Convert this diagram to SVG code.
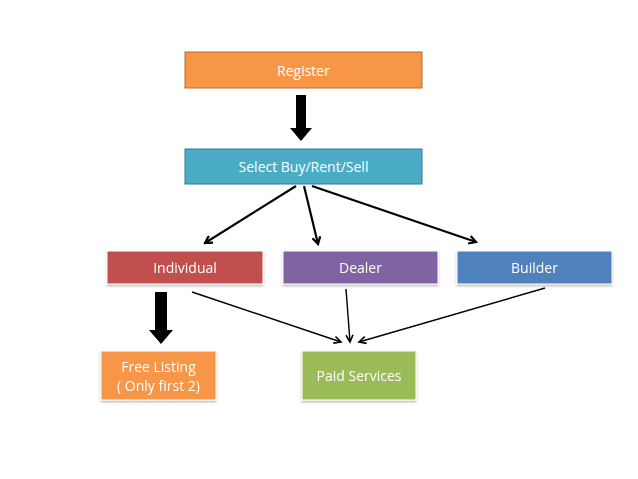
<svg xmlns="http://www.w3.org/2000/svg" width="638" height="479" viewBox="0 0 638 479">
<defs>
<style>
.box{stroke-width:1}
.t{font-family:"Open Sans","Liberation Sans",sans-serif;font-size:14px;fill:#fff;text-anchor:middle}
.c{stroke:#000;stroke-width:2.2;fill:none}
.c2{stroke:#000;stroke-width:1.4;fill:none}
</style>
<marker id="ah" markerWidth="10" markerHeight="10" refX="8" refY="5" orient="auto" markerUnits="userSpaceOnUse"><path d="M1,1 L8,5 L1,9" fill="none" stroke="#000" stroke-width="2.2"/></marker>
<marker id="ah2" markerWidth="10" markerHeight="10" refX="8" refY="5" orient="auto" markerUnits="userSpaceOnUse"><path d="M1,1.5 L8,5 L1,8.5" fill="none" stroke="#000" stroke-width="1.6"/></marker>
<filter id="sh" x="-5%" y="-10%" width="110%" height="130%"><feDropShadow dx="0" dy="1.5" stdDeviation="1.2" flood-color="#000" flood-opacity="0.3"/></filter>
</defs>
<rect width="638" height="479" fill="#fff"/>
<g id="register"><rect class="box" x="185" y="52" width="237" height="36" fill="#F79646" stroke="#B66D31"/><text class="t" x="303.5" y="76">Register</text></g>
<g id="select"><rect class="box" x="185" y="149" width="237" height="35" fill="#4BACC6" stroke="#357D91"/><text class="t" x="303.5" y="172">Select Buy/Rent/Sell</text></g>
<g id="individual" filter="url(#sh)"><rect class="box" x="107" y="251" width="156" height="33" fill="#C0504D" stroke="#fff"/><text class="t" x="185" y="273">Individual</text></g>
<g id="dealer" filter="url(#sh)"><rect class="box" x="283" y="251" width="155" height="33" fill="#8064A2" stroke="#fff"/><text class="t" x="360.5" y="273">Dealer</text></g>
<g id="builder" filter="url(#sh)"><rect class="box" x="457" y="251" width="155" height="33" fill="#4F81BD" stroke="#fff"/><text class="t" x="534.5" y="273">Builder</text></g>
<g id="free" filter="url(#sh)"><rect class="box" x="101" y="351" width="115" height="49" fill="#F79646" stroke="#fff"/><text class="t" x="158.5" y="372">Free Listing</text><text class="t" x="158.5" y="391">( Only first 2)</text></g>
<g id="paid" filter="url(#sh)"><rect class="box" x="302" y="351" width="114" height="49" fill="#9BBB59" stroke="#fff"/><text class="t" x="359" y="381">Paid Services</text></g>
<g id="connectors">
<path d="M296,95 H306 V128 H312 L301,141 L290,128 H296 Z" fill="#000"/>
<path d="M155,292 H167 V330 H173 L161,344 L149,330 H155 Z" fill="#000"/>
<line class="c" x1="296" y1="186" x2="205" y2="243" marker-end="url(#ah)"/>
<line class="c" x1="304" y1="186" x2="318" y2="244" marker-end="url(#ah)"/>
<line class="c" x1="312" y1="186" x2="476" y2="242" marker-end="url(#ah)"/>
<line class="c2" x1="192" y1="292" x2="341" y2="342" marker-end="url(#ah2)"/>
<line class="c2" x1="346" y1="289" x2="350" y2="342" marker-end="url(#ah2)"/>
<line class="c2" x1="545" y1="288" x2="359" y2="342" marker-end="url(#ah2)"/>
</g>
</svg>
